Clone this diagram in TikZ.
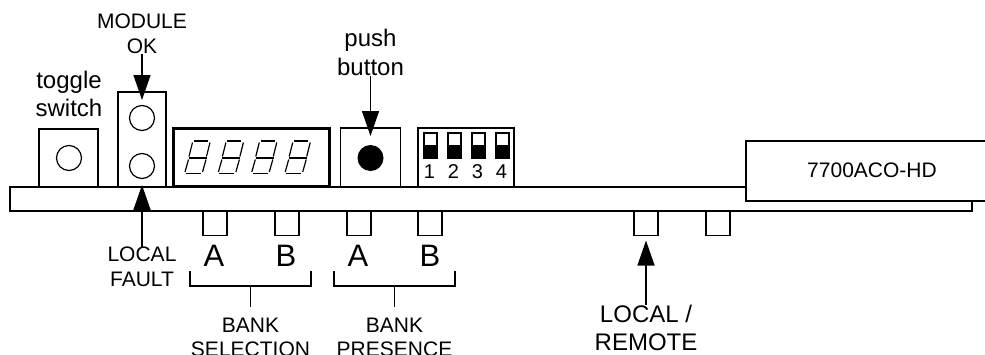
\documentclass[tikz,border=0pt]{standalone}
\usepackage{fontspec}
\setmainfont{Liberation Sans}
\usetikzlibrary{arrows.meta}
\tikzset{
    part/.style={draw, line width=1.4pt, minimum width=#1, inner sep=0pt, outer sep=0pt},
    tab/.style={part=24pt, minimum height=24pt},
    led/.style={draw, circle, line width=1.2pt, minimum size=25pt, inner sep=0pt, outer sep=0pt},
    lbl/.style={align=center, font=\fontsize{21pt}{24.5pt}\selectfont, inner sep=0pt},
    biglbl/.style={align=center, font=\fontsize{24pt}{28.5pt}\selectfont, inner sep=0pt},
    letter/.style={font=\fontsize{31pt}{31pt}\selectfont, inner sep=0pt},
    callout/.style={-{Triangle[length=25pt,width=17pt]}, line width=1.4pt},
    brace/.style={line width=1.4pt},
    seg/.style={line width=1.2pt},
}
\begin{document}
\begin{tikzpicture}[x=1pt,y=-1pt]
    \useasboundingbox (0,0) rectangle (985,354);
    \begin{scope}

    % board
    \draw [line width=1.4pt] (746,187) -- (10,187) -- (10,211) -- (972,211) -- (972,201);

    % front panel parts
    \node (toggle) [part=59pt, minimum height=58pt] at (68.5,158) {};
    \node (ledbox) [part=48pt, minimum height=95pt] at (142,139.5) {};
    \node (ledtop) [led] at (142,118) {};
    \node (ledbot) [led] at (142,166) {};
    \node (toggleknob) [led] at (69,158) {};
    \node (display) [draw, line width=3.2pt, minimum width=156pt, minimum height=58pt, inner sep=0pt] at (251.5,157.5) {};
    \node (pushbox) [part=60pt, minimum height=59pt] at (370.5,157.5) {};
    \node (pushknob) [circle, fill=black, minimum size=26pt, inner sep=0pt, outer sep=0pt] at (370.5,158) {};
    \node (dipbox) [part=96pt, minimum height=59pt] at (466,157.5) {};

    % seven segment digits
    \foreach \x in {0,1,2,3}{%
        \begin{scope}[shift={(\x*33.4,0)}]
        \draw [seg] (194,141) -- (208,141);
        \draw [seg] (192.5,142.5) -- (189,156.5) (188.5,159.5) -- (185,172);
        \draw [seg] (210,142.5) -- (206.5,156.5) (206,159.5) -- (202.5,172);
        \draw [seg] (189,158) -- (207,158);
        \draw [seg] (186,173.5) -- (201,173.5);
        \end{scope}}

    % dip switches
    \foreach \n/\x in {1/430.5,2/454.5,3/478.5,4/502.5}{%
        \node (dip\n) [draw, line width=1.2pt, minimum width=13pt, minimum height=25pt, inner sep=0pt] at (\x,145.5) {};
        \fill (\x-6.5,145) rectangle (\x+6.5,158);
        \node (num\n) [lbl, font=\fontsize{20pt}{24pt}\selectfont] at (\x-1,171.5) {\n};}

    % module
    \draw [line width=1.4pt, fill=white] (985,141) -- (746,141) -- (746,201) -- (985,201);
    \node (module) [lbl] at (872,170.5) {7700ACO-HD};

    % tabs below the board
    \foreach \n/\x in {sela/215,selb/287,prea/359,preb/430,locrem/646,other/718}{%
        \node (\n) [tab] at (\x,223.5) {};}

    % labels
    \node (toggletxt) [biglbl] at (69,94) {toggle\\switch};
    \node (modok) [lbl] at (142,34) {MODULE\\OK};
    \node (pushtxt) [biglbl] at (370.5,52.5) {push\\button};
    \node (fault) [lbl] at (142,267) {LOCAL\\FAULT};
    \node (remote) [biglbl] at (646,328) {LOCAL /\\REMOTE};
    \node (selatxt) [letter] at (214,256) {A};
    \node (selbtxt) [letter] at (286,256) {B};
    \node (preatxt) [letter] at (358,256) {A};
    \node (prebtxt) [letter] at (430,256) {B};
    \node (selection) [lbl, anchor=north] at (250.5,317.5) {BANK\\SELECTION};
    \node (presence) [lbl, anchor=north] at (394.5,317.5) {BANK\\PRESENCE};

    % brackets
    \coordinate (selbrace) at (250.5,286);
    \coordinate (prebrace) at (394.5,286);
    \draw [brace] (190,271) -- (190,286) -- (311,286) -- (311,271);
    \draw [brace] (334,271) -- (334,286) -- (455,286) -- (455,271);
    \draw [brace, shorten >=10.5pt] (selbrace) -- (selection.north);
    \draw [brace, shorten >=10.5pt] (prebrace) -- (presence.north);

    % arrows
    \draw [callout, shorten >=5.5pt] (modok.south) -- (ledtop.north);
    \draw [callout, shorten >=6.5pt] (fault.north) -- (ledbot.south);
    \draw [callout, shorten >=9pt] (pushtxt.south) -- (pushknob.north);
    \draw [callout, shorten >=5pt] (remote.north) -- (locrem.south);

    \end{scope}
\end{tikzpicture}
\end{document}
